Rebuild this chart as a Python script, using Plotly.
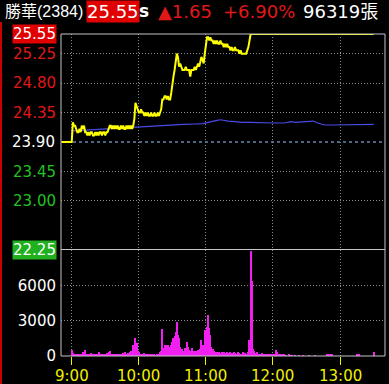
import plotly.graph_objects as go

# ---------------- data ----------------
STOCK_NAME = "勝華(2384)"
LAST_PRICE = "25.55"
CHANGE = "▲1.65"
CHANGE_PCT = "+6.90%"
TOTAL_VOL = "96319張"

PRICE_TICKS = [25.25, 24.80, 24.35, 23.45, 23.00]
PRICE_TICK_COLORS = ["#e01818", "#e01818", "#e01818", "#22c022", "#22c022"]
REF_PRICE = 23.90
LIMIT_UP = 25.55
LIMIT_DOWN = 22.25
VOL_TICKS = [0, 3000, 6000]
TIME_TICKS = ["9:00", "10:00", "11:00", "12:00", "13:00"]

PRICE_TIMES = ["08:51"] + [f"{9 + m // 60:02d}:{m % 60:02d}" for m in range(0, 161)] + ["13:30"]
PRICE = [23.90,
         23.90, 24.20, 24.15, 24.15, 24.10, 24.05, 24.05, 24.10, 24.05, 24.15,
         24.10, 24.15, 24.05, 24.05, 24.00, 24.05, 24.00, 24.05, 24.05, 24.00,
         24.00, 24.05, 24.00, 24.05, 24.00, 24.05, 24.05, 24.00, 24.05, 24.05,
         24.00, 24.05, 24.05, 24.10, 24.15, 24.15, 24.10, 24.15, 24.10, 24.15,
         24.10, 24.15, 24.10, 24.10, 24.15, 24.10, 24.15, 24.10, 24.10, 24.15,
         24.10, 24.15, 24.10, 24.15, 24.10, 24.15, 24.25, 24.50, 24.45, 24.40,
         24.35, 24.35, 24.40, 24.35, 24.35, 24.30, 24.35, 24.30, 24.35, 24.30,
         24.30, 24.35, 24.30, 24.30, 24.35, 24.30, 24.30, 24.35, 24.30, 24.35,
         24.40, 24.55, 24.55, 24.60, 24.60, 24.55, 24.60, 24.55, 24.55, 24.65,
         24.80, 24.90, 25.00, 25.10, 25.25, 25.20, 25.05, 25.10, 25.05, 25.00,
         25.00, 25.00, 25.05, 25.00, 25.00, 25.00, 24.90, 25.00, 25.00, 25.00,
         25.05, 25.00, 25.05, 25.10, 25.05, 25.15, 25.20, 25.15, 25.10, 25.25,
         25.40, 25.50, 25.50, 25.45, 25.50, 25.45, 25.45, 25.40, 25.45, 25.40,
         25.45, 25.40, 25.40, 25.45, 25.40, 25.40, 25.35, 25.40, 25.35, 25.40,
         25.35, 25.35, 25.30, 25.35, 25.30, 25.30, 25.35, 25.30, 25.30, 25.30,
         25.25, 25.30, 25.25, 25.25, 25.25, 25.25, 25.25, 25.30, 25.35, 25.45,
         25.55,
         25.55]

AVG_TIMES = ["09:01", "09:10", "09:20", "09:30", "09:40", "09:50", "10:00", "10:10", "10:20",
             "10:30", "10:40", "10:50", "10:58", "11:02", "11:06", "11:10", "11:13", "11:16",
             "11:20", "11:26", "11:32", "11:40", "11:50", "12:00", "12:10", "12:16", "12:20",
             "12:26", "12:32", "12:36", "12:40", "12:46", "12:52", "13:00", "13:08", "13:16",
             "13:22", "13:30"]
AVG_PRICE = [24.07, 24.08, 24.09, 24.10, 24.11, 24.12, 24.13, 24.14, 24.15,
             24.16, 24.17, 24.175, 24.18, 24.20, 24.21, 24.23, 24.24, 24.23,
             24.22, 24.21, 24.20, 24.20, 24.19, 24.19, 24.19, 24.21, 24.20,
             24.21, 24.22, 24.22, 24.19, 24.16, 24.16, 24.16, 24.17, 24.16,
             24.16, 24.17]

VOLUME = [550, 250, 150, 180, 120, 150, 100, 200, 150, 120,
          300, 200, 550, 200, 150, 100, 150, 250, 120, 100,
          200, 150, 80, 120, 300, 200, 100, 150, 80, 120,
          100, 150, 250, 350, 400, 200, 150, 100, 80, 120,
          100, 150, 80, 100, 200, 150, 250, 150, 300, 200,
          250, 150, 300, 400, 300, 950, 600, 1500, 1100, 400,
          300, 200, 150, 100, 200, 250, 100, 150, 80, 100,
          150, 100, 200, 150, 100, 80, 120, 100, 200, 300,
          400, 2300, 700, 900, 950, 850, 900, 800, 650, 900,
          1200, 1500, 1700, 2000, 2850, 1800, 1500, 800, 500, 600,
          450, 650, 600, 1150, 800, 500, 400, 350, 700, 400,
          300, 450, 350, 500, 550, 600, 1350, 900, 950, 2200,
          1500, 2500, 3500, 2400, 1800, 800, 600, 400, 350, 250,
          300, 200, 300, 250, 350, 200, 300, 250, 200, 300,
          250, 200, 350, 250, 200, 300, 250, 200, 150, 300,
          250, 200, 150, 300, 200, 250, 150, 200, 300, 1400,
          8950, 6400, 600, 400, 250, 200, 300, 150, 200, 100,
          250, 150, 200, 100, 150, 200, 100, 150, 100, 200,
          100, 150, 100, 550, 350, 100, 150, 0, 100, 50,
          100, 0, 80, 0, 100, 50, 0, 80, 0, 0,
          50, 0, 0, 50, 0, 0, 0, 50, 0, 0,
          0, 0, 50, 0, 0, 0, 0, 0, 50, 0,
          0, 0, 0, 0, 0, 0, 0, 0, 100, 150,
          0, 120, 0, 100, 0, 0, 0, 0, 0, 0,
          0, 0, 0, 0, 0, 0, 0, 0, 0, 0,
          0, 0, 0, 0, 0, 150, 0, 200, 0, 0,
          0, 0, 0, 0, 0, 0, 0, 0, 0, 0,
          370]


def to_min(t):
    h, m = t.split(":")
    return (int(h) - 9) * 60 + int(m)


price_x = [to_min(t) for t in PRICE_TIMES]
avg_x = [to_min(t) for t in AVG_TIMES]
vol_x = list(range(len(VOLUME)))
time_tickvals = [to_min(t) for t in TIME_TICKS]

FONT = "DejaVu Sans"
GRID = "#8a8a8a"
GRIDDASH = "1px,2px"
FRAME = "#c4c4c4"

fig = go.Figure()
fig.add_trace(go.Bar(x=vol_x, y=VOLUME, marker=dict(color="#f020f0", line=dict(width=0)),
                     width=0.95, xaxis="x", yaxis="y", showlegend=False))
fig.add_trace(go.Scatter(x=avg_x, y=AVG_PRICE, mode="lines",
                         line=dict(color="#4a4ae6", width=1.2),
                         xaxis="x2", yaxis="y2", showlegend=False))
fig.add_trace(go.Scatter(x=price_x, y=PRICE, mode="lines",
                         line=dict(color="#ffff00", width=2),
                         xaxis="x2", yaxis="y2", showlegend=False))

W, H = 389, 384
L, R, T, B = 61, 4, 34, 28
PW, PH = W - L - R, H - T - B
split = (356 - 250) / PH


def px(x):
    return (x - L) / PW


def py(y):
    return (H - B - y) / PH


xrange_ = [-9.6, 280.2]

fig.update_layout(
    width=W, height=H,
    margin=dict(l=L, r=R, t=T, b=B, pad=0, autoexpand=False),
    paper_bgcolor="black", plot_bgcolor="black",
    font=dict(family=FONT, color="white", size=15),
    bargap=0,
    xaxis=dict(domain=[0, 1], anchor="y", range=xrange_, tickvals=time_tickvals, ticktext=TIME_TICKS,
               showticklabels=False,
               ticks="outside", ticklen=8, tickcolor="#f0f000", tickwidth=1,
               showgrid=True, gridcolor=GRID, griddash=GRIDDASH, gridwidth=1,
               zeroline=False, showline=False, automargin=False),
    yaxis=dict(domain=[0, split], range=[0, 9000], tickvals=VOL_TICKS,
               tickfont=dict(color="white", size=15, family=FONT),
               ticks="", ticklabelstandoff=4,
               showgrid=True, gridcolor=GRID, griddash=GRIDDASH, gridwidth=1,
               zeroline=False, showline=False, automargin=False),
    xaxis2=dict(domain=[0, 1], anchor="y2", range=xrange_, matches="x", tickvals=time_tickvals,
                showticklabels=False, ticks="",
                showgrid=True, gridcolor=GRID, griddash=GRIDDASH, gridwidth=1,
                zeroline=False, showline=False, automargin=False),
    yaxis2=dict(domain=[split, 1], range=[LIMIT_DOWN, LIMIT_UP], tickvals=PRICE_TICKS,
                ticktext=[f'<span style="color:{c}">{v:.2f}</span>' for v, c in zip(PRICE_TICKS, PRICE_TICK_COLORS)],
                tickfont=dict(size=15, family=FONT), ticks="", ticklabelstandoff=4,
                showgrid=True, gridcolor=GRID, griddash=GRIDDASH, gridwidth=1,
                zeroline=False, showline=False, automargin=False),
)

shapes = [
    # reference price dashed line
    dict(type="line", xref="paper", yref="y2", x0=0, x1=1, y0=REF_PRICE, y1=REF_PRICE,
         line=dict(color="#9cc8ff", width=1, dash="3px,3px"), layer="below"),
    # frame
    dict(type="rect", xref="paper", yref="paper", x0=0, x1=1, y0=0, y1=1,
         line=dict(color=FRAME, width=1), layer="above"),
    # separator between panels
    dict(type="line", xref="paper", yref="y2", x0=0, x1=1, y0=LIMIT_DOWN, y1=LIMIT_DOWN,
         line=dict(color="#c8c8c8", width=2), layer="above"),
    # red left edge line
    dict(type="line", xref="paper", yref="paper", x0=px(1), x1=px(1), y0=py(22), y1=py(384),
         line=dict(color="#c80000", width=2)),
]
fig.update_layout(shapes=shapes)

ann = []
# time labels along the bottom axis
for tv, tt in zip(time_tickvals, TIME_TICKS):
    ann.append(dict(xref="x", yref="paper", x=tv, y=py(376), xanchor="center", yanchor="middle",
                    text=tt, showarrow=False, font=dict(color="#f0f000", size=15, family=FONT)))
# left axis special labels
ann.append(dict(xref="paper", yref="y2", x=0, y=LIMIT_UP, xanchor="right", yanchor="middle",
                xshift=-4, text=f"{LIMIT_UP:.2f}", showarrow=False, bgcolor="#e00000", borderpad=0,
                font=dict(color="white", size=15, family=FONT)))
ann.append(dict(xref="paper", yref="y2", x=0, y=REF_PRICE, xanchor="right", yanchor="middle",
                xshift=-4, text=f"{REF_PRICE:.2f}", showarrow=False,
                font=dict(color="white", size=15, family=FONT)))
ann.append(dict(xref="paper", yref="y2", x=0, y=LIMIT_DOWN, xanchor="right", yanchor="middle",
                xshift=-4, text=f"{LIMIT_DOWN:.2f}", showarrow=False, bgcolor="#20b020", borderpad=0,
                font=dict(color="white", size=15, family=FONT)))

# header
HY = py(11)
ann.append(dict(xref="paper", yref="paper", x=px(3), y=HY, xanchor="left", yanchor="middle",
                text=STOCK_NAME, showarrow=False,
                font=dict(color="white", size=16, family="Liberation Sans, Noto Sans CJK TC")))
ann.append(dict(xref="paper", yref="paper", x=px(86), y=HY, xanchor="left", yanchor="middle",
                text=LAST_PRICE, showarrow=False, bgcolor="#e00000", borderpad=0,
                font=dict(color="white", size=18, family=FONT)))
ann.append(dict(xref="paper", yref="paper", x=px(137), y=HY, xanchor="left", yanchor="middle",
                text="<b>s</b>", showarrow=False,
                font=dict(color="white", size=17, family=FONT)))
ann.append(dict(xref="paper", yref="paper", x=px(156), y=HY, xanchor="left", yanchor="middle",
                text=CHANGE, showarrow=False,
                font=dict(color="#e01818", size=18, family=FONT)))
ann.append(dict(xref="paper", yref="paper", x=px(221), y=HY, xanchor="left", yanchor="middle",
                text=CHANGE_PCT, showarrow=False,
                font=dict(color="#e01818", size=18, family=FONT)))
ann.append(dict(xref="paper", yref="paper", x=px(301), y=HY, xanchor="left", yanchor="middle",
                text=TOTAL_VOL, showarrow=False,
                font=dict(color="white", size=18, family="DejaVu Sans, Noto Sans CJK TC")))
fig.update_layout(annotations=ann)

fig.write_html("out.html")
